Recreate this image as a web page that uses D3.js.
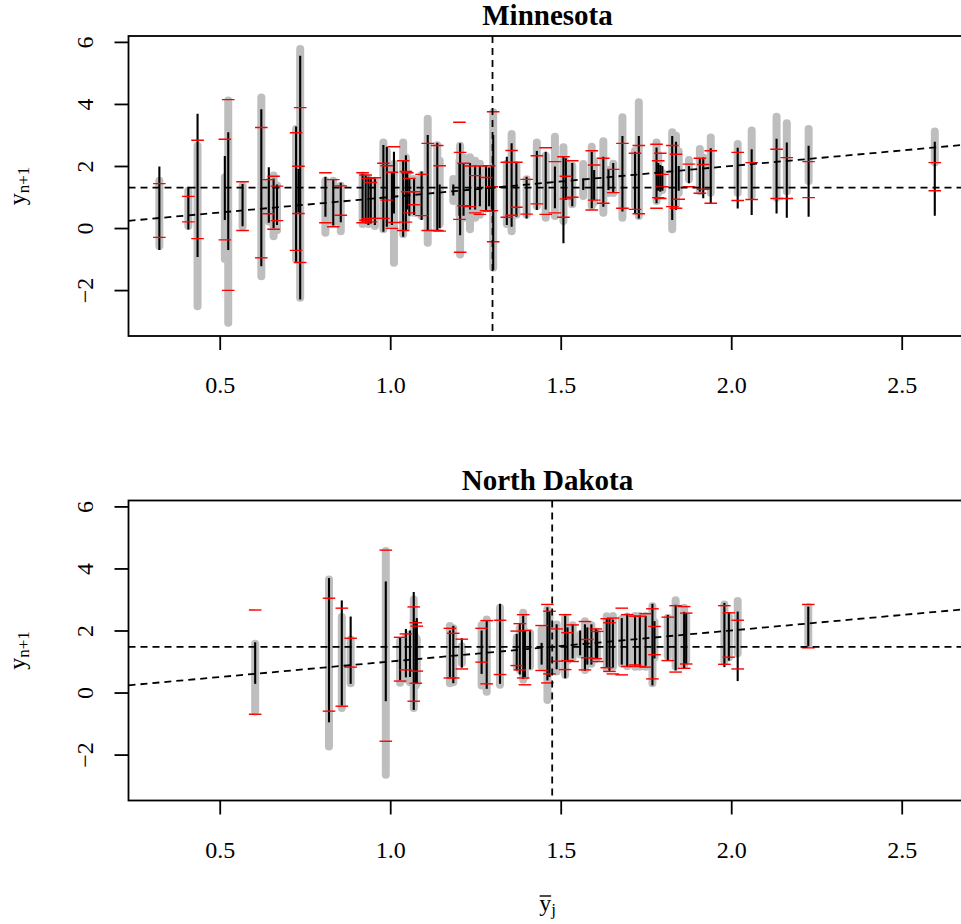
<!DOCTYPE html>
<html><head><meta charset="utf-8">
<script src="https://cdn.jsdelivr.net/npm/d3@7"></script>
<style>body{margin:0;background:#fff}svg{display:block}</style>
</head><body>
<svg id="chart" width="961" height="924"></svg>
<script>
// ---------- Minnesota ----------
const mnX      = [0.323,0.408,0.435,0.515,0.525,0.567,0.622,0.644,0.658,0.668,0.724,0.731,0.736,0.810,0.833,0.855,0.919,0.928,0.936,0.943,0.955,0.980,0.990,1.005,1.011,1.038,1.046,1.050,1.056,1.070,1.092,1.110,1.138,1.145,1.185,1.203,1.205,1.215,1.234,1.249,1.263,1.281,1.290,1.298,1.302,1.342,1.356,1.370,1.400,1.430,1.456,1.483,1.508,1.515,1.534,1.566,1.591,1.598,1.625,1.640,1.654,1.681,1.718,1.729,1.781,1.786,1.792,1.798,1.827,1.838,1.846,1.876,1.908,1.918,1.940,2.019,2.060,2.133,2.163,2.227,2.597];
const mnGrayLo = [-0.71,-0.06,-2.65,-1.13,-3.18,-0.08,-1.68,0.08,-0.39,-0.20,-1.14,0.30,-2.38,-0.28,0.04,-0.23,0.00,0.10,0.00,0.05,-0.06,-0.17,0.00,0.00,-1.25,-0.33,-0.10,0.50,0.36,0.36,0.26,-0.60,-0.10,0.00,0.74,0.30,-0.98,0.20,-0.17,0.20,0.30,0.50,0.60,0.50,-1.41,0.00,-0.23,0.30,0.30,0.58,0.20,0.26,0.10,0.90,0.64,0.90,0.58,0.70,0.36,1.00,1.00,0.20,0.58,0.26,0.74,1.00,1.10,1.10,-0.17,0.60,1.00,1.44,1.06,1.20,1.01,1.01,0.90,0.85,1.06,1.39,1.98];
const mnGrayHi = [1.65,1.33,2.78,1.77,4.24,1.49,4.34,1.62,1.82,1.50,3.32,2.20,5.90,1.65,1.65,1.49,1.82,1.75,1.70,1.65,1.65,2.89,2.60,1.90,2.19,2.89,2.40,1.90,1.71,1.71,1.84,3.65,2.80,2.30,1.71,2.30,2.78,2.40,2.41,2.30,2.20,2.00,1.90,2.00,3.86,2.20,3.16,2.14,1.70,2.89,2.46,3.07,2.73,2.25,2.14,2.19,2.75,2.30,2.93,2.00,2.20,3.70,2.62,4.18,2.89,2.50,2.00,1.90,3.22,3.10,2.60,2.32,2.68,2.40,3.05,2.84,3.27,3.72,3.51,3.32,3.24];
const mnBlackLo= [-0.71,-0.05,-0.93,0.26,-0.71,0.06,-1.23,0.17,-0.01,0.10,-1.09,0.50,-2.30,0.36,0.08,0.19,0.20,0.15,0.10,0.15,0.10,-0.12,0.04,0.10,0.47,-0.28,-0.06,0.60,0.40,0.42,0.26,-0.06,-0.06,0.00,1.05,0.40,-0.23,0.40,0.60,0.60,0.70,0.55,0.70,0.60,-1.35,0.10,0.04,0.36,0.31,0.58,0.60,0.64,-0.49,0.90,0.70,1.23,0.64,0.90,0.69,1.23,1.14,0.53,0.47,0.31,0.80,1.20,1.17,1.20,0.26,0.58,1.20,1.44,1.17,0.96,0.80,0.63,0.42,0.47,0.33,0.36,0.40];
const mnBlackHi= [1.98,1.33,3.68,2.32,3.09,1.42,3.83,1.96,1.60,1.40,3.27,1.90,5.55,1.65,1.57,1.46,1.75,1.70,1.65,1.60,1.60,2.68,2.62,1.80,2.46,2.19,2.35,1.80,1.60,1.60,1.82,3.00,2.75,1.40,1.40,2.10,2.73,2.10,2.10,2.00,2.00,2.00,1.95,2.00,3.00,2.30,2.73,2.14,1.65,2.48,2.46,1.98,2.32,2.25,2.10,1.60,2.46,1.87,2.30,1.87,2.10,2.97,2.46,2.97,2.60,2.10,2.03,2.00,2.97,2.78,2.00,2.00,2.25,2.27,2.57,2.59,2.54,2.88,2.76,2.65,2.78];
const mnRedLo  = [-0.30,0.20,-0.34,-0.38,-2.01,-0.08,-0.96,0.46,-0.04,0.24,-0.72,0.47,-1.11,0.17,0.04,0.41,0.17,0.25,0.31,0.20,0.31,0.31,0.90,-0.01,0.18,-0.08,0.19,1.17,0.49,0.75,0.40,-0.08,-0.08,-0.10,null,0.28,-0.78,0.72,0.69,0.49,0.44,0.56,0.55,0.56,-0.44,0.35,0.41,0.67,0.45,0.78,0.44,0.49,0.35,0.94,0.99,null,0.58,0.90,0.80,null,1.14,0.64,0.60,0.46,0.64,0.98,0.95,1.33,0.69,0.64,0.93,1.33,1.12,1.25,0.80,0.89,0.92,0.95,0.95,0.98,1.20];
const mnRedHi  = [1.43,1.02,2.83,2.86,4.14,1.49,3.24,1.56,1.67,1.35,3.07,1.99,3.88,1.78,1.56,1.36,1.78,1.71,1.60,1.47,1.62,2.09,2.01,1.80,2.62,2.17,1.82,1.78,1.60,1.17,1.73,2.73,2.66,2.01,null,3.41,2.44,2.09,2.00,1.69,2.00,1.63,2.01,1.33,3.75,2.12,2.50,2.12,1.57,2.33,2.59,2.14,2.30,1.67,2.17,null,2.49,2.03,2.25,null,1.89,2.73,2.41,2.66,2.70,2.17,2.41,1.73,2.66,2.38,null,2.06,2.25,2.05,2.49,2.44,2.11,2.54,2.27,2.14,2.11];
const mnMean = 1.30;

// ---------- North Dakota ----------
const ndX      = [0.604,0.8205,0.858,0.884,0.987,1.029,1.046,1.058,1.069,1.075,1.078,1.175,1.185,1.210,1.268,1.283,1.322,1.371,1.380,1.390,1.395,1.410,1.444,1.461,1.467,1.488,1.513,1.520,1.535,1.557,1.571,1.578,1.590,1.603,1.607,1.635,1.643,1.653,1.679,1.695,1.718,1.732,1.749,1.769,1.775,1.814,1.837,1.862,1.868,1.980,1.993,2.019,2.226];
const ndGrayLo = [-0.74,-1.87,-0.63,0.17,-2.78,0.19,0.30,0.20,-0.63,0.10,0.17,0.17,0.20,0.82,0.10,-0.10,0.12,0.70,0.60,0.28,0.40,0.71,0.71,-0.37,0.60,0.55,0.44,0.90,1.00,1.10,0.60,0.80,0.80,0.95,1.00,0.65,0.70,0.70,0.80,0.72,0.70,0.70,0.70,0.17,1.00,1.03,0.71,0.76,0.90,0.87,1.00,1.14,1.44];
const ndGrayHi = [1.70,3.77,2.56,1.84,4.69,1.78,1.90,2.00,3.13,1.90,1.85,2.27,2.20,1.62,2.30,2.48,2.86,1.90,2.20,2.70,2.10,2.05,2.16,2.81,2.60,2.32,2.54,2.20,2.30,2.00,2.43,2.20,2.30,2.10,2.00,2.59,2.50,2.60,2.50,2.58,2.60,2.60,2.60,2.91,2.40,2.54,3.10,2.86,2.60,2.97,2.60,3.08,2.88];
const ndBlackLo= [0.28,-0.96,-0.42,0.28,-0.28,0.40,0.49,0.50,-0.56,0.30,0.28,0.50,0.30,0.80,0.60,0.12,0.28,0.71,0.58,0.44,0.50,0.75,0.90,0.39,0.50,0.75,0.46,1.00,1.10,1.20,0.70,0.90,0.90,1.10,1.10,0.82,0.70,0.80,0.90,0.82,0.87,0.82,0.86,0.23,1.10,1.03,0.71,0.76,0.92,0.82,1.03,0.37,1.49];
const ndBlackHi= [1.62,3.69,2.97,2.45,3.58,1.78,2.05,2.00,3.24,2.30,2.40,2.00,2.15,1.75,2.00,2.32,2.86,1.89,2.22,2.48,2.00,2.00,1.60,2.75,2.62,2.20,2.48,2.10,2.20,2.00,2.20,2.10,2.20,2.05,2.00,2.38,2.40,2.35,2.40,2.54,2.48,2.48,2.47,2.86,2.30,2.50,2.83,2.60,2.56,2.89,2.59,2.61,2.77];
const ndRedLo  = [-0.70,-0.60,-0.44,0.82,-1.57,0.37,0.73,null,-0.28,0.30,0.69,0.47,0.47,0.76,0.98,0.28,0.58,0.87,0.73,0.47,0.25,null,0.71,0.31,0.60,1.01,0.74,1.03,1.00,null,0.73,1.12,null,1.09,1.00,0.80,0.68,0.60,0.57,0.84,0.89,0.84,0.82,0.44,1.22,1.03,0.66,0.78,0.92,0.91,1.14,0.76,1.44];
const ndRedHi  = [2.66,3.04,2.72,1.75,4.59,1.78,1.89,null,2.76,2.25,2.14,2.07,1.91,1.72,2.07,2.32,2.33,1.98,2.22,2.51,2.00,null,2.16,2.84,2.62,2.05,2.51,1.93,2.18,null,2.29,1.71,null,2.05,1.97,2.38,2.25,2.40,2.72,2.51,2.46,2.46,2.54,2.70,2.13,2.43,2.80,2.77,2.56,2.80,2.57,2.33,2.84];
const ndMean = 1.475;

// ---------- axes ----------
const xTicks = [0.5, 1.0, 1.5, 2.0, 2.5];
const yTicks = [-2, 0, 2, 4, 6];
const xDomain = [0.2325, 2.69];
const yDomain = [-3.48, 6.19];

const FONT = "'Liberation Serif','Times New Roman',Times,serif";
const svg = d3.select("#chart");
const left = 128.5, right = 966.5, plotH = 300;
const x = d3.scaleLinear().domain(xDomain).range([left, right]);

const panels = [
  {name: "Minnesota", top: 36, xs: mnX, gLo: mnGrayLo, gHi: mnGrayHi, bLo: mnBlackLo, bHi: mnBlackHi, rLo: mnRedLo, rHi: mnRedHi, mean: mnMean},
  {name: "North Dakota", top: 500.5, xs: ndX, gLo: ndGrayLo, gHi: ndGrayHi, bLo: ndBlackLo, bHi: ndBlackHi, rLo: ndRedLo, rHi: ndRedHi, mean: ndMean}
];

panels.forEach((p, k) => {
  const y = d3.scaleLinear().domain(yDomain).range([p.top + plotH, p.top]);
  const rows = p.xs.map((xv, i) => ({x: xv, gLo: p.gLo[i], gHi: p.gHi[i], bLo: p.bLo[i], bHi: p.bHi[i], rLo: p.rLo[i], rHi: p.rHi[i]}));

  svg.append("clipPath").attr("id", "clip" + k)
    .append("rect").attr("x", left).attr("y", p.top).attr("width", right - left).attr("height", plotH);

  const g = svg.append("g").attr("clip-path", `url(#clip${k})`);

  // gray intervals (round caps, ends pulled in by the cap radius)
  g.append("g").selectAll("line").data(rows).join("line")
    .attr("x1", d => x(d.x)).attr("x2", d => x(d.x))
    .attr("y1", d => { const a = y(d.gLo), b = y(d.gHi), m = (a + b) / 2; return Math.max(a - 4, m); })
    .attr("y2", d => { const a = y(d.gLo), b = y(d.gHi), m = (a + b) / 2; return Math.min(b + 4, m); })
    .attr("stroke", "#bebebe").attr("stroke-width", 8).attr("stroke-linecap", "round");

  // black intervals
  g.append("g").selectAll("line").data(rows).join("line")
    .attr("x1", d => x(d.x)).attr("x2", d => x(d.x))
    .attr("y1", d => y(d.bLo)).attr("y2", d => y(d.bHi))
    .attr("stroke", "#000").attr("stroke-width", 2.1);

  // red ticks
  const reds = [];
  rows.forEach(d => { if (d.rLo != null) reds.push({x: d.x, v: d.rLo}); if (d.rHi != null) reds.push({x: d.x, v: d.rHi}); });
  g.append("g").selectAll("line").data(reds).join("line")
    .attr("x1", d => x(d.x) - 6.3).attr("x2", d => x(d.x) + 6.3)
    .attr("y1", d => y(d.v)).attr("y2", d => y(d.v))
    .attr("stroke", "#ff0000").attr("stroke-width", 1.4);

  // dashed reference lines
  const dash = {"stroke": "#000", "stroke-width": 1.8, "stroke-dasharray": "7,5", "fill": "none"};
  const addLine = (x1, y1, x2, y2) => {
    const l = g.append("line").attr("x1", x1).attr("y1", y1).attr("x2", x2).attr("y2", y2);
    Object.entries(dash).forEach(([a, v]) => l.attr(a, v));
  };
  addLine(left, y(p.mean), right, y(p.mean));
  addLine(x(p.mean), p.top, x(p.mean), p.top + plotH);
  addLine(x(xDomain[0]), y(xDomain[0]), x(xDomain[1]), y(xDomain[1]));

  // box
  svg.append("rect").attr("x", left).attr("y", p.top).attr("width", right - left).attr("height", plotH)
    .attr("fill", "none").attr("stroke", "#000").attr("stroke-width", 1.8);

  // y axis
  const ya = svg.append("g").attr("transform", `translate(${left},0)`)
    .call(d3.axisLeft(y).tickValues(yTicks).tickSize(14).tickFormat(d => d < 0 ? "\u2212" + Math.abs(d) : String(d)));
  ya.select(".domain").remove();
  ya.selectAll(".tick line").attr("stroke", "#000").attr("stroke-width", 1.8);
  ya.selectAll(".tick text")
    .attr("x", null).attr("dy", null)
    .attr("transform", "translate(-36,0) rotate(-90)")
    .attr("text-anchor", "middle")
    .attr("font-family", FONT).attr("font-size", 24).attr("fill", "#000");

  // x axis
  const xa = svg.append("g").attr("transform", `translate(0,${p.top + plotH})`)
    .call(d3.axisBottom(x).tickValues(xTicks).tickSize(14).tickFormat(d3.format(".1f")));
  xa.select(".domain").remove();
  xa.selectAll(".tick line").attr("stroke", "#000").attr("stroke-width", 1.8);
  xa.selectAll(".tick text")
    .attr("y", 57).attr("dy", null)
    .attr("font-family", FONT).attr("font-size", 24).attr("fill", "#000");

  // title
  svg.append("text").attr("x", (left + right) / 2).attr("y", p.top - 11)
    .attr("text-anchor", "middle").attr("font-family", FONT).attr("font-weight", "bold")
    .attr("font-size", 29).text(p.name);

  // y label
  const yl = svg.append("text")
    .attr("transform", `translate(25,${p.top + plotH / 2}) rotate(-90)`)
    .attr("text-anchor", "middle").attr("font-family", FONT).attr("font-size", 24);
  yl.append("tspan").text("y");
  yl.append("tspan").attr("font-size", 17).attr("dy", 4).text("n+1");
});

// x label: y-bar with subscript j
const xl = svg.append("text").attr("x", 0).attr("y", 911)
  .attr("font-family", FONT).attr("font-size", 24);
xl.append("tspan").text("y");
xl.append("tspan").attr("font-size", 17).attr("dy", 4).text("j");
const total = xl.node().getComputedTextLength();
const yW = xl.node().getSubStringLength(0, 1);
const x0 = (left + right) / 2 - total / 2;
xl.attr("x", x0);
svg.append("line").attr("x1", x0 + 0.5).attr("x2", x0 + yW).attr("y1", 896).attr("y2", 896)
  .attr("stroke", "#000").attr("stroke-width", 1.4);
</script>
</body></html>
